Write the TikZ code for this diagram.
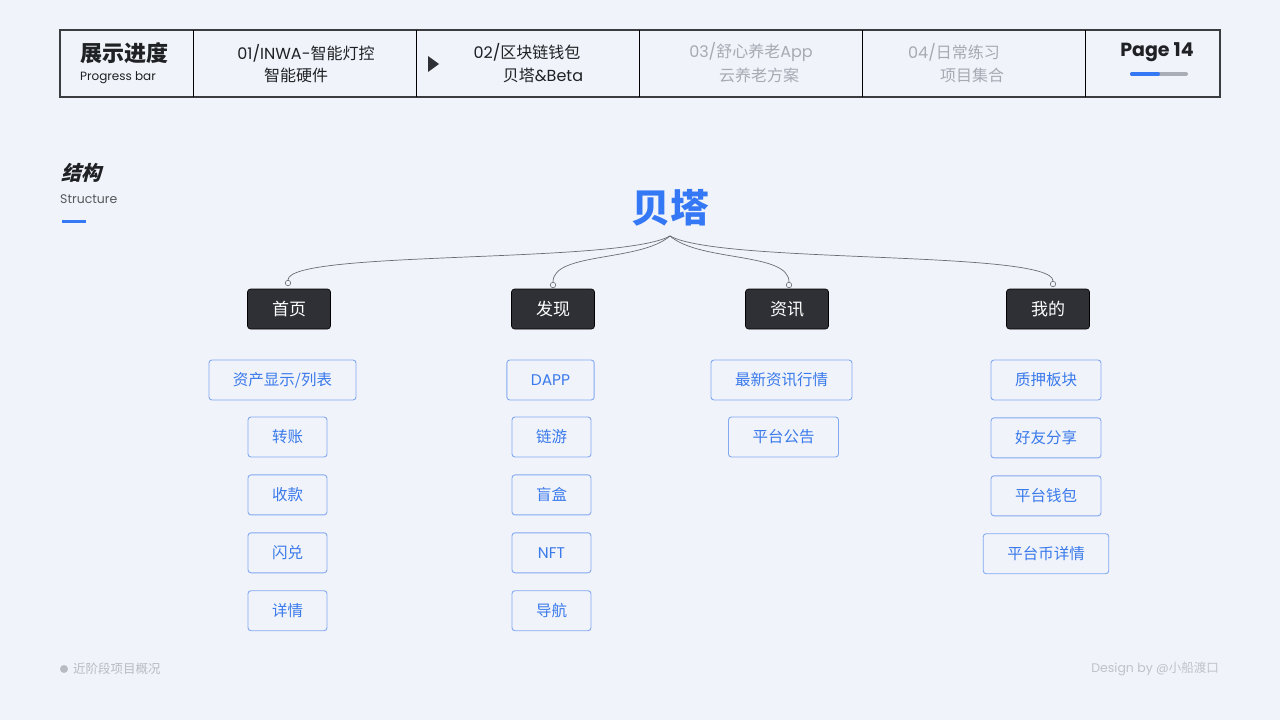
\documentclass[tikz,border=0pt]{standalone}
\usepackage{fontspec}
\setmainfont{Noto Sans CJK SC}
\newfontfamily\pagefont{Poppins}
\newfontfamily\slantfont[FakeSlant=0.25]{Noto Sans CJK SC}
\usetikzlibrary{arrows.meta, positioning, calc}

\definecolor{bgcol}{HTML}{F0F3FA}
\definecolor{framecol}{HTML}{3A3C40}
\definecolor{darktxt}{HTML}{1F2124}
\definecolor{greytxt}{HTML}{A6AAB3}
\definecolor{foottxt}{HTML}{B8BBC2}
\definecolor{catfill}{HTML}{2E3035}
\definecolor{accent}{HTML}{3478F6}
\definecolor{childline}{HTML}{82A9F2}
\definecolor{childtxt}{HTML}{3A7AEB}
\definecolor{barbg}{HTML}{A9ADB5}
\definecolor{wirecol}{HTML}{6B6D72}

\newcommand{\lat}[1]{{\pagefont #1}}

\begin{document}
\begin{tikzpicture}[
    x=1pt, y=-1pt,
    hdtext/.style={inner sep=0pt, text=darktxt, font=\fontsize{16}{19}\selectfont},
    hdgrey/.style={hdtext, text=greytxt},
    cat/.style={rectangle, draw=black, fill=catfill, rounded corners=3pt, line width=0.6pt,
        minimum width=83pt, minimum height=40pt, text=white, font=\fontsize{17}{20}\selectfont},
    child/.style={rectangle, draw=childline, rounded corners=3pt, line width=0.9pt,
        minimum width=79pt, minimum height=40pt, inner xsep=24pt, text=childtxt,
        font=\fontsize{15.5}{18}\selectfont},
    dot/.style={circle, draw=wirecol, fill=bgcol, line width=0.6pt, minimum size=5.5pt, inner sep=0pt},
    wire/.style={draw=wirecol, line width=0.7pt},
    foot/.style={inner sep=0pt, text=foottxt, font=\fontsize{12.5}{15}\selectfont}
]
\useasboundingbox (0,0) rectangle (1280,720);
\fill[bgcol] (0,0) rectangle (1280,720);

% Header bar
\draw[framecol, line width=1.3pt] (60,30) rectangle (1220,97);
\foreach \x in {193,416,639,862,1085}
    \draw[black, line width=1pt] (\x,30) -- (\x,97);

\node[hdtext, anchor=west, font=\fontsize{22}{26}\selectfont\bfseries] (hdtitle) at (80,53) {展示进度};
\node[hdtext, anchor=west, font=\pagefont\fontsize{12}{15}\selectfont] (hdsub) at (80,78) {Progress bar};

\node[hdtext] (s1a) at (306,53) {\lat{01/INWA-}智能灯控};
\node[hdtext] (s1b) at (296,75) {智能硬件};

\fill[catfill] (428,56) -- (439,64) -- (428,72) -- cycle;
\node[hdtext] (s2a) at (527,52) {\lat{02/}区块链钱包};
\node[hdtext] (s2b) at (543,75) {贝塔\lat{\&Beta}};

\node[hdgrey] (s3a) at (751,52) {\lat{03/}舒心养老\lat{App}};
\node[hdgrey] (s3b) at (759,75) {云养老方案};

\node[hdgrey] (s4a) at (954,52) {\lat{04/}日常练习};
\node[hdgrey] (s4b) at (972,75) {项目集合};

\node[hdtext, font=\pagefont\fontsize{19}{22}\selectfont\bfseries] (pageno) at (1157,52) {Page 14};
\draw[barbg, line width=4pt, line cap=round] (1132,74) -- (1186,74);
\draw[accent, line width=4pt, line cap=round] (1132,74) -- (1158,74);

% Section title
\node[inner sep=0pt, anchor=west, text=darktxt, font=\slantfont\fontsize{20}{24}\selectfont\bfseries] (sect) at (61,173) {结构};
\node[inner sep=0pt, anchor=west, text=darktxt!75, font=\pagefont\fontsize{12.5}{16}\selectfont] (sectsub) at (60,199) {Structure};
\draw[accent, line width=3pt] (62,221) -- (86,221);

% Root
\node[inner sep=0pt, text=accent, font=\fontsize{39}{44}\selectfont\bfseries] (root) at (670,208) {贝塔};
\coordinate (hub) at (670,236);

% Categories
\node[cat] (home) at (289,309) {首页};
\node[cat] (find) at (553,309) {发现};
\node[cat] (news) at (787,309) {资讯};
\node[cat] (mine) at (1048,309) {我的};

\node[dot] (dhome) at (288,283) {};
\node[dot] (dfind) at (553,285) {};
\node[dot] (dnews) at (789,285) {};
\node[dot] (dmine) at (1053,284) {};

% Wires from the root
\draw[wire] (hub) .. controls (620,264) and (288,250) .. (dhome.north);
\draw[wire] (hub) .. controls (640,262) and (553,252) .. (dfind.north);
\draw[wire] (hub) .. controls (700,262) and (789,252) .. (dnews.north);
\draw[wire] (hub) .. controls (720,264) and (1053,250) .. (dmine.north);

% Home column
\node[child] (h1) at (282.5,380) {资产显示/列表};
\node[child] (h2) at (287.5,437) {转账};
\node[child] (h3) [below=17pt of h2] {收款};
\node[child] (h4) [below=17pt of h3] {闪兑};
\node[child] (h5) [below=17pt of h4] {详情};

% Discover column
\node[child] (f1) at (550.5,380) {\lat{DAPP}};
\node[child] (f2) at (551.5,437) {链游};
\node[child] (f3) [below=17pt of f2] {盲盒};
\node[child] (f4) [below=17pt of f3] {\lat{NFT}};
\node[child] (f5) [below=17pt of f4] {导航};

% News column
\node[child] (n1) at (781.5,380) {最新资讯行情};
\node[child] (n2) at (783.5,437) {平台公告};

% Mine column
\node[child] (m1) at (1046,380) {质押板块};
\node[child] (m2) [below=17pt of m1] {好友分享};
\node[child] (m3) [below=17pt of m2] {平台钱包};
\node[child] (m4) [below=17pt of m3] {平台币详情};

% Footer
\fill[foottxt] (64,669) circle (4pt);
\node[foot, anchor=west] (footl) at (73,669) {近阶段项目概况};
\node[foot, anchor=east, text=foottxt!90] (footr) at (1219,669) {\lat{Design by @}小船渡口};

\end{tikzpicture}
\end{document}
